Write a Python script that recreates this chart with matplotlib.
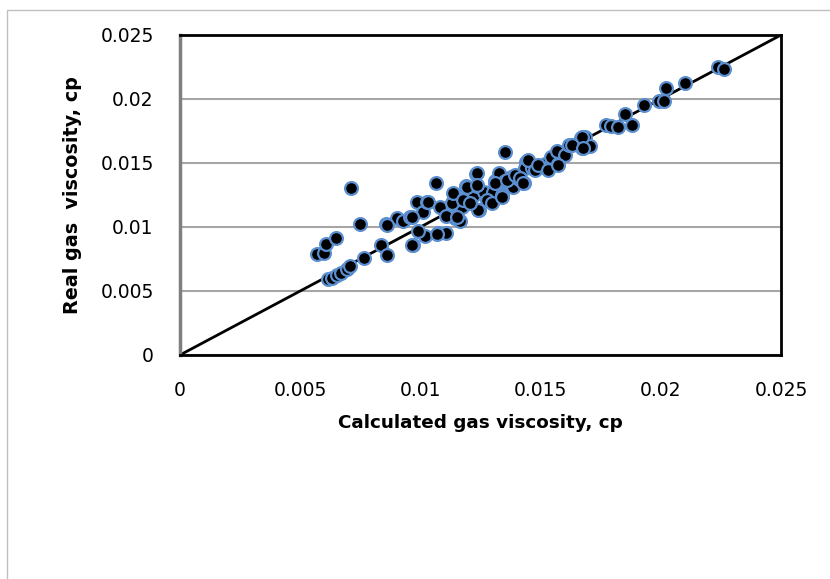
import matplotlib.pyplot as plt
from matplotlib.patches import Rectangle

# calculated vs. measured gas viscosity (cp)
calc_visc = [
    0.00568, 0.00599, 0.00607, 0.00649, 0.00711, 0.00748, 0.00616, 0.00634,
    0.00651, 0.00671, 0.00695, 0.00709, 0.00766, 0.00836, 0.00858, 0.00863,
    0.00902, 0.00928, 0.00957, 0.00968, 0.00984, 0.01012, 0.01028, 0.01019,
    0.00990, 0.01063, 0.01074, 0.01107, 0.01089, 0.01107, 0.01138, 0.01133,
    0.01144, 0.01166, 0.01171, 0.01188, 0.01184, 0.01221, 0.01232, 0.01243,
    0.01237, 0.01265, 0.01294, 0.01303, 0.01309, 0.01325, 0.01338, 0.01353,
    0.01353, 0.01375, 0.01386, 0.01408, 0.01430, 0.01441, 0.01435, 0.01463,
    0.01485, 0.01518, 0.01529, 0.01545, 0.01573, 0.01567, 0.01602, 0.01617,
    0.01668, 0.01684, 0.01673, 0.01706, 0.01771, 0.01794, 0.01820, 0.01849,
    0.01882, 0.01932, 0.01992, 0.02013, 0.02020, 0.02101, 0.02238, 0.02262,
    0.00860, 0.00964, 0.01033, 0.00966, 0.01070, 0.01081, 0.01105, 0.01130,
    0.01137, 0.01151, 0.01179, 0.01195, 0.01234, 0.01234, 0.01241, 0.01206,
    0.01276, 0.01297, 0.01310, 0.01338, 0.01359, 0.01393, 0.01414, 0.01428,
    0.01449, 0.01477, 0.01490, 0.01532, 0.01574, 0.01629, 0.01671, 0.01678,
]
real_visc = [
    0.00790, 0.00796, 0.00865, 0.00914, 0.01303, 0.01024, 0.00591, 0.00605,
    0.00626, 0.00640, 0.00675, 0.00692, 0.00755, 0.00862, 0.01021, 0.00778,
    0.01067, 0.01050, 0.01081, 0.00856, 0.01194, 0.01116, 0.01194, 0.00928,
    0.00972, 0.01341, 0.00952, 0.00952, 0.01150, 0.01096, 0.01260, 0.01188,
    0.01073, 0.01050, 0.01159, 0.01318, 0.01217, 0.01246, 0.01413, 0.01130,
    0.01318, 0.01275, 0.01202, 0.01275, 0.01361, 0.01419, 0.01251, 0.01586,
    0.01361, 0.01390, 0.01309, 0.01376, 0.01347, 0.01505, 0.01462, 0.01462,
    0.01476, 0.01491, 0.01462, 0.01548, 0.01491, 0.01592, 0.01563, 0.01641,
    0.01693, 0.01701, 0.01620, 0.01629, 0.01794, 0.01788, 0.01779, 0.01880,
    0.01799, 0.01952, 0.01987, 0.01981, 0.02082, 0.02125, 0.02246, 0.02232,
    0.01016, 0.01080, 0.01198, 0.00859, 0.00945, 0.01159, 0.01086, 0.01185,
    0.01263, 0.01080, 0.01211, 0.01315, 0.01419, 0.01328, 0.01133, 0.01185,
    0.01211, 0.01185, 0.01341, 0.01237, 0.01367, 0.01406, 0.01380, 0.01341,
    0.01523, 0.01445, 0.01484, 0.01445, 0.01484, 0.01641, 0.01705, 0.01615,
]
ticks = [0, 0.005, 0.01, 0.015, 0.02, 0.025]
tick_labels = ["0", "0.005", "0.01", "0.015", "0.02", "0.025"]

fig = plt.figure(figsize=(8.3, 5.79), dpi=100)
ax = fig.add_axes([0.2169, 0.3869, 0.7241, 0.5527])

# outer chart frame
fig.patches.append(Rectangle((7 / 830, -0.05), 1.2, 1 - 10 / 579 + 0.05,
                             transform=fig.transFigure, fill=False,
                             edgecolor="#c0c0c0", lw=1.0, clip_on=False))

ax.set_axisbelow(True)
ax.grid(axis="y", color="#a6a6a6", lw=1.5)
ax.plot([0, 0.025], [0, 0.025], color="black", lw=2, zorder=2)
ax.scatter(calc_visc, real_visc, s=85, facecolor="black",
           edgecolor="#5b8fd0", linewidth=1.6, zorder=3)

ax.set_xlim(0, 0.025)
ax.set_ylim(0, 0.025)
ax.set_xticks(ticks, tick_labels)
ax.set_yticks(ticks, tick_labels)
ax.tick_params(length=0, labelsize=13.5, pad=19)

for side in ["top", "right", "bottom"]:
    ax.spines[side].set_linewidth(2)
    ax.spines[side].set_color("black")
ax.spines["left"].set_linewidth(2.5)
ax.spines["left"].set_color("#7f7f7f")

ax.set_xlabel("Calculated gas viscosity, cp", fontsize=13.2,
              fontweight="bold", labelpad=10)
ax.set_ylabel("Real gas  viscosity, cp", fontsize=13.8,
              fontweight="bold", labelpad=13)

fig.savefig("out.png", dpi=100)
